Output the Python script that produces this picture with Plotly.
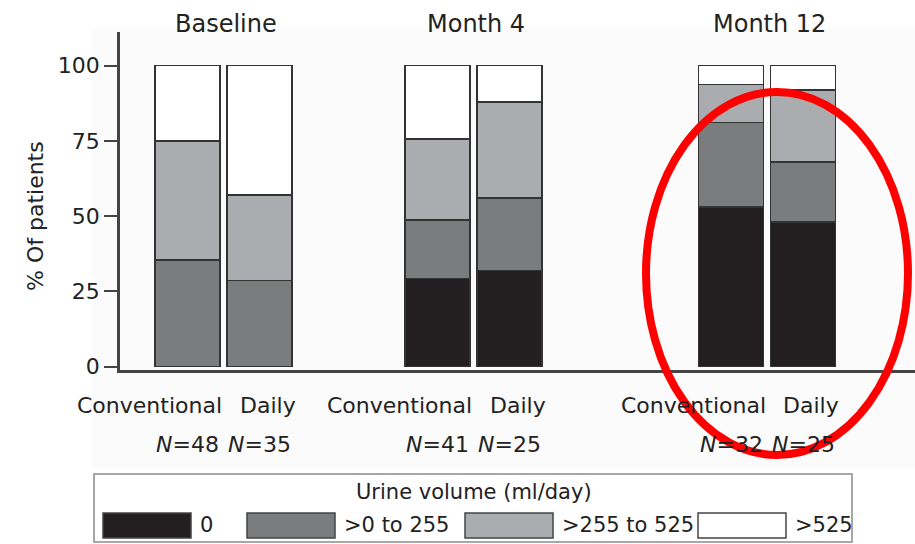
import plotly.graph_objects as go

# ---------------- data ----------------
groups = ["Baseline", "Month 4", "Month 12"]
arms = ["Conventional", "Daily"]
n_patients = [48, 35, 41, 25, 32, 25]          # order: group x arm
pct_zero = [0, 0, 29.3, 32, 53.1, 48]
pct_0_255 = [35.4, 28.6, 19.5, 24, 28.1, 20]
pct_255_525 = [39.6, 28.5, 26.8, 32, 12.5, 24]
pct_gt525 = [25, 42.9, 24.4, 12, 6.3, 8]
series_names = ["0", ">0 to 255", ">255 to 525", ">525"]
series_values = [pct_zero, pct_0_255, pct_255_525, pct_gt525]
y_ticks = [0, 25, 50, 75, 100]
legend_title = "Urine volume (ml/day)"
y_title = "% Of patients"

# ---------------- layout constants ----------------
W, H = 915, 544
PL, PR, PT, PB = 120, 915, 32, 370          # plot area in pixels
FONT = "DejaVu Sans"
TXT = "#222222"
colors = ["#231f20", "#7b7c7e", "#abacaf", "#ffffff"]
group_pos = [0, 1, 2.174]
arm_offset = [-0.144, 0.144]
bar_width = 0.26
label_shift = [-38, 8]


def px(x):
    return (x - PL) / (PR - PL)


def py(y):
    return (PB - y) / (PB - PT)


x_pos = [group_pos[g] + arm_offset[a] for g in range(len(groups)) for a in range(len(arms))]

fig = go.Figure()
for name, vals, col in zip(series_names, series_values, colors):
    fig.add_trace(go.Bar(
        x=x_pos, y=vals, name=name, width=bar_width,
        marker=dict(color=col, line=dict(color="#333333", width=1.5)),
        showlegend=False,
    ))

shapes = []
annotations = []


def note(text, x, y, size, xref="paper", xanchor="center", xshift=0, angle=0):
    annotations.append(dict(x=x, y=y, xref=xref, yref="paper", text=text,
                            showarrow=False, xanchor=xanchor, yanchor="middle",
                            xshift=xshift, textangle=angle,
                            font=dict(family=FONT, size=size, color=TXT)))


# faint background panel
shapes.append(dict(type="rect", xref="paper", yref="paper", layer="below",
                   x0=px(92), x1=px(915), y0=py(29), y1=py(468),
                   fillcolor="#fbfbfb", line=dict(width=0)))

# group titles
for g, name in enumerate(groups):
    note(name, group_pos[g], py(24), 24, xref="x", xshift=2)

# arm labels and N labels
i = 0
for g in range(len(groups)):
    for a, arm in enumerate(arms):
        note(arm, x_pos[i], py(405), 22, xref="x", xshift=label_shift[a])
        note("<i>N</i>=%d" % n_patients[i], x_pos[i], py(445), 22, xref="x")
        i += 1

# y-axis title
note(y_title, px(35), py(216), 22, angle=-90)

# custom legend
shapes.append(dict(type="rect", xref="paper", yref="paper",
                   x0=px(94), x1=px(852), y0=py(474), y1=py(542),
                   fillcolor="#ffffff", line=dict(color="#8a8a8a", width=1.5)))
note(legend_title, px(474), py(492), 21)
sw_x = [103, 247, 465, 698]
sw_w = 88
for k, (name, col) in enumerate(zip(series_names, colors)):
    shapes.append(dict(type="rect", xref="paper", yref="paper",
                       x0=px(sw_x[k]), x1=px(sw_x[k] + sw_w), y0=py(513), y1=py(538),
                       fillcolor=col, line=dict(color="#444444", width=1.5)))
    note(name, px(sw_x[k] + sw_w + 7), py(525), 21, xanchor="left")

# red highlight ellipse
shapes.append(dict(type="circle", xref="paper", yref="paper", layer="above",
                   x0=px(646), x1=px(908), y0=py(92), y1=py(455),
                   line=dict(color="#ff0000", width=8)))

fig.update_layout(
    barmode="stack",
    width=W, height=H,
    margin=dict(l=PL, r=W - PR, t=PT, b=H - PB, pad=0),
    paper_bgcolor="#ffffff",
    plot_bgcolor="rgba(0,0,0,0)",
    font=dict(family=FONT, color=TXT),
    shapes=shapes,
    annotations=annotations,
    xaxis=dict(range=[-0.414, 2.766], showticklabels=False, ticks="",
               showgrid=False, zeroline=False, showline=True,
               linecolor="#444444", linewidth=2.5),
    yaxis=dict(range=[-1.1, 111.2], tickvals=y_ticks, ticks="outside",
               ticklen=13, tickwidth=2, tickcolor="#444444",
               showgrid=False, zeroline=False, showline=True,
               linecolor="#444444", linewidth=2.5,
               tickfont=dict(family=FONT, size=22, color=TXT)),
)

fig.write_html("out.html")
